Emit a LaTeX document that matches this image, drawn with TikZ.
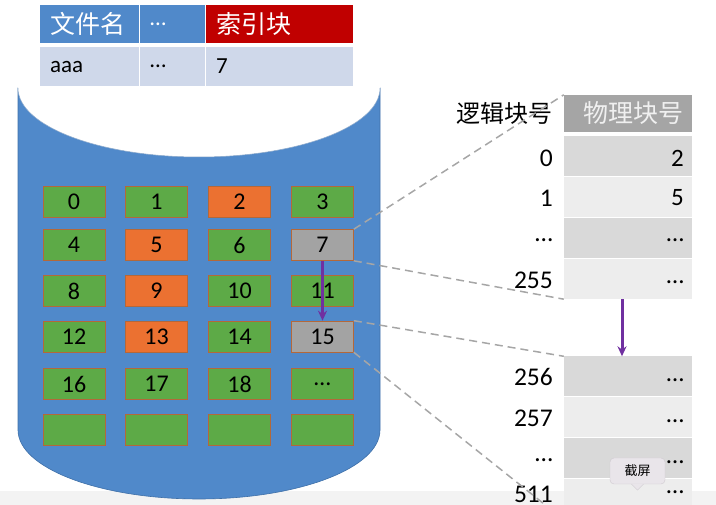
\documentclass[tikz,border=0pt]{standalone}
\usepackage{fontspec}
\setmainfont{Carlito}
\newfontfamily\cjk{Noto Sans CJK SC}
\usetikzlibrary{arrows.meta,calc}
\definecolor{cylblue}{HTML}{5089CA}
\definecolor{cyledge}{HTML}{3F70A8}
\definecolor{bgreen}{HTML}{5DAA47}
\definecolor{borange}{HTML}{EB7131}
\definecolor{bgray}{HTML}{A3A3A3}
\definecolor{bedge}{HTML}{B4683A}
\definecolor{hblue}{HTML}{5089CA}
\definecolor{hred}{HTML}{C00000}
\definecolor{rowblue}{HTML}{CFD8EA}
\definecolor{rdark}{HTML}{D9D9D9}
\definecolor{rlight}{HTML}{EDEDED}
\definecolor{hdrgray}{HTML}{A5A5A5}
\definecolor{dashgray}{HTML}{A6A6A6}
\definecolor{purp}{HTML}{7030A0}
\definecolor{tipfill}{HTML}{E9E5EA}
\definecolor{tipedge}{HTML}{CFCAD0}
\definecolor{band}{HTML}{F3F3F3}
\tikzset{
  blk/.style={draw=bedge, line width=0.6pt, minimum width=62pt, minimum height=31pt, inner sep=0pt, font=\fontsize{24}{26}\selectfont},
  cell/.style={minimum height=38pt, inner xsep=10pt, inner ysep=0pt, align=left, font=\fontsize{23}{25}\selectfont},
  ccell/.style={cell, font=\cjk\fontsize{25}{27}\selectfont},
  prow/.style={minimum width=128pt, minimum height=40pt, inner sep=0pt},
  lnum/.style={anchor=east, inner sep=0pt, font=\fontsize{25.5}{27}\selectfont},
  pnum/.style={anchor=east, inner sep=0pt, font=\fontsize{25}{27}\selectfont},
  dline/.style={draw=dashgray, line width=1.5pt, dash pattern=on 8pt off 5pt},
  parrow/.style={draw=purp, line width=3pt, -{Stealth[length=10pt,width=9pt]}},
}
\begin{document}
\begin{tikzpicture}[x=1pt,y=-1pt]
\useasboundingbox (0,0) rectangle (716,505);
\clip (0,0) rectangle (716,505);
% bottom band
\fill[band] (0,491) rectangle (716,505);
% cylinder body
\filldraw[fill=cylblue, draw=cyledge, line width=0.6pt] (18,88) -- (18,430)
  .. controls (18,468) and (99.1,499) .. (199,499)
  .. controls (298.9,499) and (380,468) .. (380,430) -- (380,88) -- cycle;
\fill[white] (18,88) .. controls (18,50) and (99.1,19) .. (199,19)
  .. controls (298.9,19) and (380,50) .. (380,88)
  .. controls (380,126) and (298.9,157) .. (199,157)
  .. controls (99.1,157) and (18,126) .. (18,88) -- cycle;
\draw[cyledge!60, line width=0.5pt] (380,88)
  .. controls (380,126) and (298.9,157) .. (199,157)
  .. controls (99.1,157) and (18,126) .. (18,88);
% top table
\node[ccell, fill=hblue, text=white, minimum width=99pt, text width=79pt] (h1) at (89.5,24) {文件名};
\node[cell, fill=hblue, text=white, minimum width=65pt, text width=45pt] (h2) at (172.5,24) {…};
\node[ccell, fill=hred, text=white, minimum width=147pt, text width=127pt] (h3) at (279.5,24) {索引块};
\node[cell, fill=rowblue, minimum width=99pt, text width=79pt, minimum height=39pt] (d1) at (89.5,66.5) {aaa};
\node[cell, fill=rowblue, minimum width=65pt, text width=45pt, minimum height=39pt] (d2) at (172.5,66.5) {…};
\node[cell, fill=rowblue, minimum width=147pt, text width=127pt, minimum height=39pt] (d3) at (279.5,66.5) {7};
% blocks
\node[blk, fill=bgreen] (b0) at (74,202) {0};
\node[blk, fill=bgreen] (b1) at (156.5,202) {1};
\node[blk, fill=borange] (b2) at (239.5,202) {2};
\node[blk, fill=bgreen] (b3) at (322.5,202) {3};
\node[blk, fill=bgreen] (b4) at (74,245) {4};
\node[blk, fill=borange] (b5) at (156.5,245) {5};
\node[blk, fill=bgreen] (b6) at (239.5,245) {6};
\node[blk, fill=bgray] (b7) at (322.5,245) {7};
\node[blk, fill=bgreen] (b8) at (74,291) {8};
\node[blk, fill=borange] (b9) at (156.5,291) {9};
\node[blk, fill=bgreen] (b10) at (239.5,291) {10};
\node[blk, fill=bgreen] (b11) at (322.5,291) {11};
\node[blk, fill=bgreen] (b12) at (74,336.5) {12};
\node[blk, fill=borange] (b13) at (156.5,336.5) {13};
\node[blk, fill=bgreen] (b14) at (239.5,336.5) {14};
\node[blk, fill=bgray] (b15) at (322.5,336.5) {15};
\node[blk, fill=bgreen] (b16) at (74,384) {16};
\node[blk, fill=bgreen] (b17) at (156.5,384) {17};
\node[blk, fill=bgreen] (b18) at (239.5,384) {18};
\node[blk, fill=bgreen] (b19) at (322.5,384) {…};
\node[blk, fill=bgreen] (b20) at (74,430) {};
\node[blk, fill=bgreen] (b21) at (156.5,430) {};
\node[blk, fill=bgreen] (b22) at (239.5,430) {};
\node[blk, fill=bgreen] (b23) at (322.5,430) {};
% right table
\node[prow, fill=hdrgray, minimum height=37pt] (hdr) at (628,113.5) {};
\node[text=black!6, inner sep=0pt, font=\cjk\fontsize{25}{27}\selectfont] (hdrtxt) at (633,113.5) {物理块号};
\node[anchor=east, inner sep=0pt, font=\cjk\fontsize{24}{26}\selectfont] (lhdr) at (553,113.5) {逻辑块号};
\node[prow, fill=rdark] (r0) at (628,156.5) {};
\node[prow, fill=rlight] (r1) at (628,197.5) {};
\node[prow, fill=rdark] (r2) at (628,238.5) {};
\node[prow, fill=rlight] (r255) at (628,279) {};
\node[prow, fill=rdark] (r256) at (628,376.5) {};
\node[prow, fill=rlight] (r257) at (628,417) {};
\node[prow, fill=rdark] (r258) at (628,458) {};
\node[prow, fill=rlight] (r511) at (628,499.5) {};
\node[lnum] (l0) at (553,158) {0};
\node[lnum] (l1) at (553,198) {1};
\node[lnum] (l2) at (553,240) {…};
\node[lnum] (l255) at (553,280) {255};
\node[lnum] (l256) at (553,377) {256};
\node[lnum] (l257) at (553,418) {257};
\node[lnum] (l258) at (553,460) {…};
\node[lnum, anchor=north east] (l511) at (553,486) {511};
\node[pnum] (p0) at (684,158) {2};
\node[pnum] (p1) at (684,198) {5};
\node[pnum] (p2) at (684,240) {…};
\node[pnum] (p255) at (684,282) {…};
\node[pnum] (p256) at (684,380) {…};
\node[pnum] (p257) at (684,421) {…};
\node[pnum] (p258) at (684,462) {…};
\node[pnum, anchor=north east] (p511) at (684,490) {…};
% dashed connectors
\draw[dline] (b7.north east) -- (hdr.north west);
\draw[dline] (b7.south east) -- (r255.south west);
\draw[dline] (b15.north east) -- (r256.north west);
\draw[dline] (b15.south east) -- (r511.south west);
% purple arrows
\draw[parrow] (b7.south) -- (b15.north);
\draw[parrow] ($(r255.south)+(-6,0)$) -- ($(r256.north)+(-6,0)$);
% tooltip
\node[fill=tipfill, draw=tipedge, line width=0.4pt, rounded corners=4pt, minimum width=55pt, minimum height=26pt, inner sep=0pt, font=\cjk\fontsize{13}{15}\selectfont] (tip) at (637.5,471) {截屏};
\fill[tipfill] ($(tip.south)+(-6,-0.5)$) -- ($(tip.south)+(0,6)$) -- ($(tip.south)+(6,-0.5)$) -- cycle;
\draw[tipedge, line width=0.4pt] ($(tip.south)+(-6,0)$) -- ($(tip.south)+(0,6)$) -- ($(tip.south)+(6,0)$);
\end{tikzpicture}
\end{document}
